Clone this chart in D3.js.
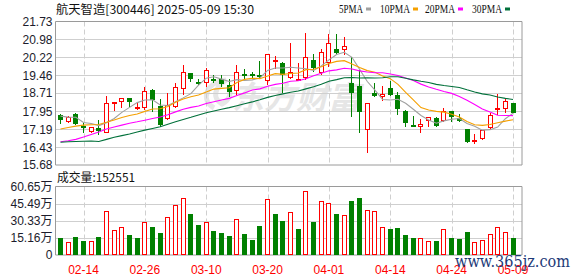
<!DOCTYPE html>
<html><head><meta charset="utf-8">
<script src="https://cdn.jsdelivr.net/npm/d3@7/dist/d3.min.js"></script>
<style>
html,body{margin:0;padding:0;background:#fff;}
svg{display:block;}
</style></head>
<body>
<script>
// ---------------- DATA ----------------
const title = "航天智造[300446] 2025-05-09 15:30";
const volLabel = "成交量:152551";
const dates = ["02-11","02-12","02-13","02-14","02-17","02-18","02-19","02-20","02-21","02-24","02-25","02-26","02-27","02-28",
"03-03","03-04","03-05","03-06","03-07","03-10","03-11","03-12","03-13","03-14","03-17","03-18","03-19","03-20","03-21","03-24","03-25","03-26","03-27","03-28","03-31",
"04-01","04-02","04-03","04-07","04-08","04-09","04-10","04-11","04-14","04-15","04-16","04-17","04-18","04-21","04-22","04-23","04-24","04-25","04-28","04-29","04-30",
"05-06","05-07","05-08","05-09"];
const xTickDates = ["02-14","02-26","03-10","03-20","04-01","04-14","04-24","05-09"];
const open  = [17.79,17.50,17.81,17.32,17.07,17.25,17.04,18.28,18.32,18.49,18.12,18.09,18.84,18.16,17.60,18.14,18.87,19.54,19.20,19.12,
19.30,19.29,19.05,18.81,19.51,19.50,19.49,19.23,20.03,20.00,19.33,19.27,19.33,20.10,19.57,19.96,20.59,20.52,19.15,19.01,
17.15,18.73,18.53,18.91,18.63,17.95,17.36,17.29,17.53,17.65,17.53,17.95,17.65,17.20,16.64,16.76,17.25,18.05,18.03,18.28];
const high  = [17.83,17.74,17.88,17.44,17.29,17.57,18.59,18.35,18.49,18.50,18.31,18.98,18.87,18.45,18.72,19.15,19.89,19.55,19.29,19.75,
19.47,19.47,19.29,19.89,19.71,19.61,20.07,20.38,20.27,20.02,20.81,20.00,21.25,20.38,20.55,21.19,21.19,21.08,20.24,19.68,
18.30,19.15,19.01,19.23,18.77,18.00,17.74,17.60,17.70,17.70,18.07,17.95,17.81,17.20,16.97,17.15,17.86,18.67,18.45,18.31];
const low   = [17.39,17.44,17.36,17.04,17.04,16.93,17.01,17.95,18.07,18.11,18.00,18.00,17.92,17.29,17.57,18.07,18.63,19.19,19.05,18.98,
19.12,18.98,18.56,18.63,19.29,19.33,19.33,19.05,19.71,18.70,19.29,19.25,19.25,19.61,19.47,19.82,20.38,20.31,17.69,17.04,
16.20,18.55,18.39,18.59,17.79,17.29,17.29,17.01,17.29,17.29,17.50,17.50,17.50,16.62,16.56,16.73,17.15,17.79,17.88,17.86];
const close = [17.57,17.69,17.39,17.23,17.27,17.11,18.28,18.33,18.49,18.32,18.14,18.80,18.42,17.36,18.21,18.98,19.58,19.30,19.17,19.68,
19.27,19.09,18.77,19.58,19.47,19.46,19.45,20.38,20.10,19.47,19.58,19.30,20.24,19.75,20.45,20.83,20.41,20.69,18.70,17.92,
18.28,18.61,18.67,18.63,18.04,17.46,17.33,17.39,17.69,17.33,17.95,17.69,17.53,16.66,16.73,17.15,17.79,18.09,18.38,17.88];
const ma5  = [17.74,17.70,17.69,17.47,17.43,17.34,17.46,17.64,17.90,18.11,18.31,18.42,18.43,18.21,18.19,18.35,18.51,18.69,19.05,19.34,
19.40,19.30,19.20,19.28,19.24,19.27,19.35,19.67,19.77,19.77,19.80,19.77,19.74,19.67,19.86,20.11,20.34,20.43,20.22,19.71,
19.20,18.84,18.44,18.42,18.45,18.28,18.03,17.77,17.58,17.44,17.54,17.61,17.64,17.43,17.31,17.15,17.17,17.28,17.63,17.86];
const ma10 = [17.20,17.26,17.32,17.36,17.38,17.39,17.48,17.58,17.68,17.77,17.83,17.94,18.04,18.05,18.15,18.33,18.46,18.56,18.63,18.76,
18.88,18.91,18.94,19.16,19.29,19.34,19.32,19.43,19.53,19.50,19.54,19.56,19.70,19.72,19.82,19.96,20.05,20.08,19.94,19.79,
19.66,19.59,19.43,19.32,19.08,18.74,18.43,18.10,18.00,17.94,17.91,17.82,17.70,17.51,17.38,17.35,17.39,17.46,17.53,17.59];
const ma20 = [16.66,16.70,16.76,16.86,16.97,17.07,17.20,17.28,17.36,17.44,17.50,17.57,17.64,17.70,17.80,17.92,18.03,18.11,18.17,18.27,
18.35,18.42,18.49,18.61,18.72,18.84,18.89,19.00,19.08,19.13,19.21,19.23,19.32,19.44,19.55,19.65,19.69,19.76,19.73,19.65,
19.60,19.57,19.57,19.52,19.45,19.35,19.24,19.09,18.97,18.87,18.78,18.70,18.57,18.41,18.23,18.04,17.91,17.78,17.77,17.76];
const ma30 = [16.64,16.66,16.67,16.68,16.69,16.67,16.76,16.85,16.92,16.99,17.07,17.15,17.22,17.29,17.40,17.50,17.60,17.69,17.79,17.88,
17.96,18.03,18.10,18.18,18.26,18.34,18.43,18.53,18.61,18.68,18.75,18.80,18.89,18.98,19.08,19.21,19.28,19.36,19.37,19.35,
19.36,19.35,19.36,19.40,19.40,19.34,19.27,19.21,19.16,19.08,19.03,18.99,18.95,18.85,18.76,18.68,18.63,18.55,18.49,18.44];
// volume in 万 shares
const volume = [15.3,11.2,16.2,12.4,12.4,16.2,39.0,22.1,24.8,17.7,15.3,28.9,24.8,19.5,33.3,44.3,50.2,36.3,26.6,28.9,
21.3,19.5,17.1,31.6,18.6,13.6,25.7,49.6,36.3,30.1,37.8,23.0,56.7,29.5,47.8,45.7,36.3,35.4,47.8,50.5,
39.8,39.0,24.8,23.0,24.2,17.7,15.3,15.1,12.4,12.4,23.0,15.3,14.2,20.4,11.2,13.0,18.6,24.8,20.1,15.26];
// 1 = up day (red), 0 = down day (green) for the volume bars
const volUp = [0,1,0,0,1,0,1,1,1,0, 0,1,0,0,1,1,1,0,0,1, 0,0,0,1,0,0,0,1,0,0,
               1,0,1,0,1,1,0,1,0,0, 1,1,1,0,0,0,0,1,1,0, 1,0,0,0,1,1,1,1,1,0];
const priceTicks = [15.68,16.43,17.19,17.95,18.71,19.46,20.22,20.98,21.73];
const volTicks = [0,15.16,30.33,45.49,60.65];
const volTickLabels = ["0","15.16万","30.33万","45.49万","60.65万"];
const maNames = ["5PMA","10PMA","20PMA","30PMA"];

// ---------------- STYLE / LAYOUT ----------------
const W = 578, H = 276;
const L = 55.5, R = 522;
const pTop = 21.5, pBot = 165;
const vTop = 186.5, vBot = 255;
const RED = "#ff0000", GREEN = "#008000";
const maColors = ["#a0a0a0","#f5a000","#ff00ff","#00703a"];
const GRID = "#cfcfcf", BORDER = "#9a9a9a";

const svg = d3.select("body").append("svg").attr("width", W).attr("height", H)
  .style("font-family", "'Liberation Sans', Arial, sans-serif");

const x = d3.scaleBand().domain(dates).range([56.66, 516.86]);
const cx = d => x(d) + x.bandwidth() / 2;
const yP = d3.scaleLinear().domain([15.68, 21.73]).range([pBot, pTop]);
const yV = d3.scaleLinear().domain([0, 60.65]).range([vBot, vTop]);

// watermark (behind)
const wm = svg.append("g").attr("opacity", 0.45);
wm.append("path")
  .attr("d", "M214,108 C200,100 206,82 226,80 C214,88 212,98 222,104 C230,100 232,92 228,86")
  .attr("fill", "none").attr("stroke", "#c8c8c8").attr("stroke-width", 5);
wm.append("text").attr("x", 232).attr("y", 109)
  .attr("font-family", "'Noto Sans CJK SC'").attr("font-weight", "bold")
  .attr("font-size", 32).attr("font-style", "italic").attr("fill", "#c8c8c8")
  .text("东方财富");

// horizontal grid - price
svg.append("g").selectAll("line").data(priceTicks.slice(1, -1)).join("line")
  .attr("x1", L).attr("x2", R)
  .attr("y1", d => Math.round(yP(d)) + 0.5).attr("y2", d => Math.round(yP(d)) + 0.5)
  .attr("stroke", GRID);
// horizontal grid - volume
svg.append("g").selectAll("line").data(volTicks.slice(1, -1)).join("line")
  .attr("x1", L).attr("x2", R)
  .attr("y1", d => Math.round(yV(d)) + 0.5).attr("y2", d => Math.round(yV(d)) + 0.5)
  .attr("stroke", GRID);
// vertical dashed grid
[[pTop, pBot], [vTop, vBot]].forEach(([a, b]) => {
  svg.append("g").selectAll("line").data(xTickDates).join("line")
    .attr("x1", d => Math.round(cx(d)) + 0.5).attr("x2", d => Math.round(cx(d)) + 0.5)
    .attr("y1", a).attr("y2", b)
    .attr("stroke", GRID).attr("stroke-dasharray", "5,3");
});

// borders
function box(t, b) {
  svg.append("path")
    .attr("d", `M${L},${b} L${L},${t} L${R},${t} L${R},${b}`)
    .attr("fill", "none").attr("stroke", BORDER);
  svg.append("line").attr("x1", L).attr("x2", R).attr("y1", b).attr("y2", b)
    .attr("stroke", BORDER);
}
box(pTop, pBot);
box(vTop, vBot);

// Y axes (labels)
const ayP = svg.append("g").attr("transform", `translate(${L - 2},0)`)
  .call(d3.axisLeft(yP).tickValues(priceTicks).tickSize(0).tickPadding(1).tickFormat(d3.format(".2f")));
ayP.select(".domain").remove();
ayP.selectAll("text").attr("font-size", 12).attr("fill", "#1c1c2c").attr("font-family", "'Liberation Sans', Arial");

const ayV = svg.append("g").attr("transform", `translate(${L - 2},0)`)
  .call(d3.axisLeft(yV).tickValues(volTicks).tickSize(0).tickPadding(1)
    .tickFormat((d, i) => volTickLabels[i]));
ayV.select(".domain").remove();
ayV.selectAll("text").attr("font-size", 12).attr("fill", "#1c1c2c").attr("font-family", "'Liberation Sans','Noto Sans CJK SC'");

// X axis labels
const ax = svg.append("g").attr("transform", `translate(0,${vBot})`)
  .call(d3.axisBottom(x).tickValues(xTickDates).tickSize(0).tickPadding(10));
ax.select(".domain").remove();
ax.selectAll("text").attr("font-size", 12).attr("fill", RED).attr("font-family", "'Liberation Sans', Arial");

// ---------------- CANDLES ----------------
const cg = svg.append("g").attr("shape-rendering", "crispEdges");
dates.forEach((d, i) => {
  const X0 = Math.round(cx(d) - 2.5);
  const wx = X0 + 2.5;
  const o = open[i], c = close[i], h = high[i], l = low[i];
  const yTop = Math.round(yP(Math.max(o, c)));
  const yBotB = Math.round(yP(Math.min(o, c)));
  const yH = Math.round(yP(h)), yL = Math.round(yP(l));
  if (c >= o) {
    if (yBotB - yTop <= 1) {
      cg.append("line").attr("x1", X0).attr("x2", X0 + 5).attr("y1", yTop + 0.5).attr("y2", yTop + 0.5).attr("stroke", RED).attr("stroke-width", 2);
      cg.append("line").attr("x1", wx).attr("x2", wx).attr("y1", yH).attr("y2", yL).attr("stroke", RED);
    } else {
      cg.append("line").attr("x1", wx).attr("x2", wx).attr("y1", yH).attr("y2", yTop).attr("stroke", RED);
      cg.append("line").attr("x1", wx).attr("x2", wx).attr("y1", yBotB).attr("y2", yL).attr("stroke", RED);
      cg.append("rect").attr("x", X0 + 0.5).attr("y", yTop + 0.5).attr("width", 4).attr("height", yBotB - yTop - 1)
        .attr("fill", "#fff").attr("stroke", RED);
    }
  } else {
    cg.append("line").attr("x1", wx).attr("x2", wx).attr("y1", yH).attr("y2", yL).attr("stroke", GREEN);
    cg.append("rect").attr("x", X0).attr("y", yTop).attr("width", 5).attr("height", Math.max(2, yBotB - yTop))
      .attr("fill", GREEN);
  }
});

// ---------------- MA LINES ----------------
[ma5, ma10, ma20, ma30].forEach((arr, k) => {
  const line = d3.line().x((v, i) => cx(dates[i])).y(v => yP(v));
  svg.append("path").datum(arr).attr("d", line)
    .attr("fill", "none").attr("stroke", maColors[k]).attr("stroke-width", 1.1);
});

// ---------------- VOLUME ----------------
const vg = svg.append("g").attr("shape-rendering", "crispEdges");
dates.forEach((d, i) => {
  const X0 = Math.round(cx(d) - 2.5);
  const yT = Math.round(yV(volume[i]));
  if (volUp[i]) {
    vg.append("rect").attr("x", X0 + 0.5).attr("y", yT + 0.5).attr("width", 4).attr("height", vBot - yT - 1)
      .attr("fill", "#fff").attr("stroke", RED);
  } else {
    vg.append("rect").attr("x", X0).attr("y", yT).attr("width", 5).attr("height", vBot - yT)
      .attr("fill", GREEN);
  }
});

// ---------------- TEXTS ----------------
svg.append("text").attr("x", 56).attr("y", 14)
  .attr("font-family", "'Noto Sans CJK SC'").attr("font-size", 12).attr("fill", "#111")
  .attr("textLength", 198).attr("lengthAdjust", "spacingAndGlyphs")
  .text(title);

svg.append("text").attr("x", 57).attr("y", 182)
  .attr("font-family", "'Noto Sans CJK SC'").attr("font-size", 12).attr("fill", "#111")
  .attr("textLength", 78).attr("lengthAdjust", "spacingAndGlyphs")
  .text(volLabel);

// legend
const legX = [339, 380, 425, 472], legW = [24, 30, 30, 30];
const lg = svg.append("g");
maNames.forEach((n, k) => {
  lg.append("text").attr("x", legX[k]).attr("y", 12.5)
    .attr("font-family", "'Liberation Serif', serif").attr("font-size", 12.5).attr("fill", "#111")
    .attr("textLength", legW[k]).attr("lengthAdjust", "spacingAndGlyphs").text(n);
  lg.append("rect").attr("x", legX[k] + legW[k] + 3).attr("y", 7.5).attr("width", 5).attr("height", 3)
    .attr("fill", maColors[k]);
});

// site watermark
svg.append("text").attr("x", 455).attr("y", 267)
  .attr("font-family", "'DejaVu Serif', serif").attr("font-size", 17).attr("fill", "#1d3a78")
  .attr("textLength", 115).attr("lengthAdjust", "spacingAndGlyphs")
  .text("www.365jz.com");
</script>
</body></html>
